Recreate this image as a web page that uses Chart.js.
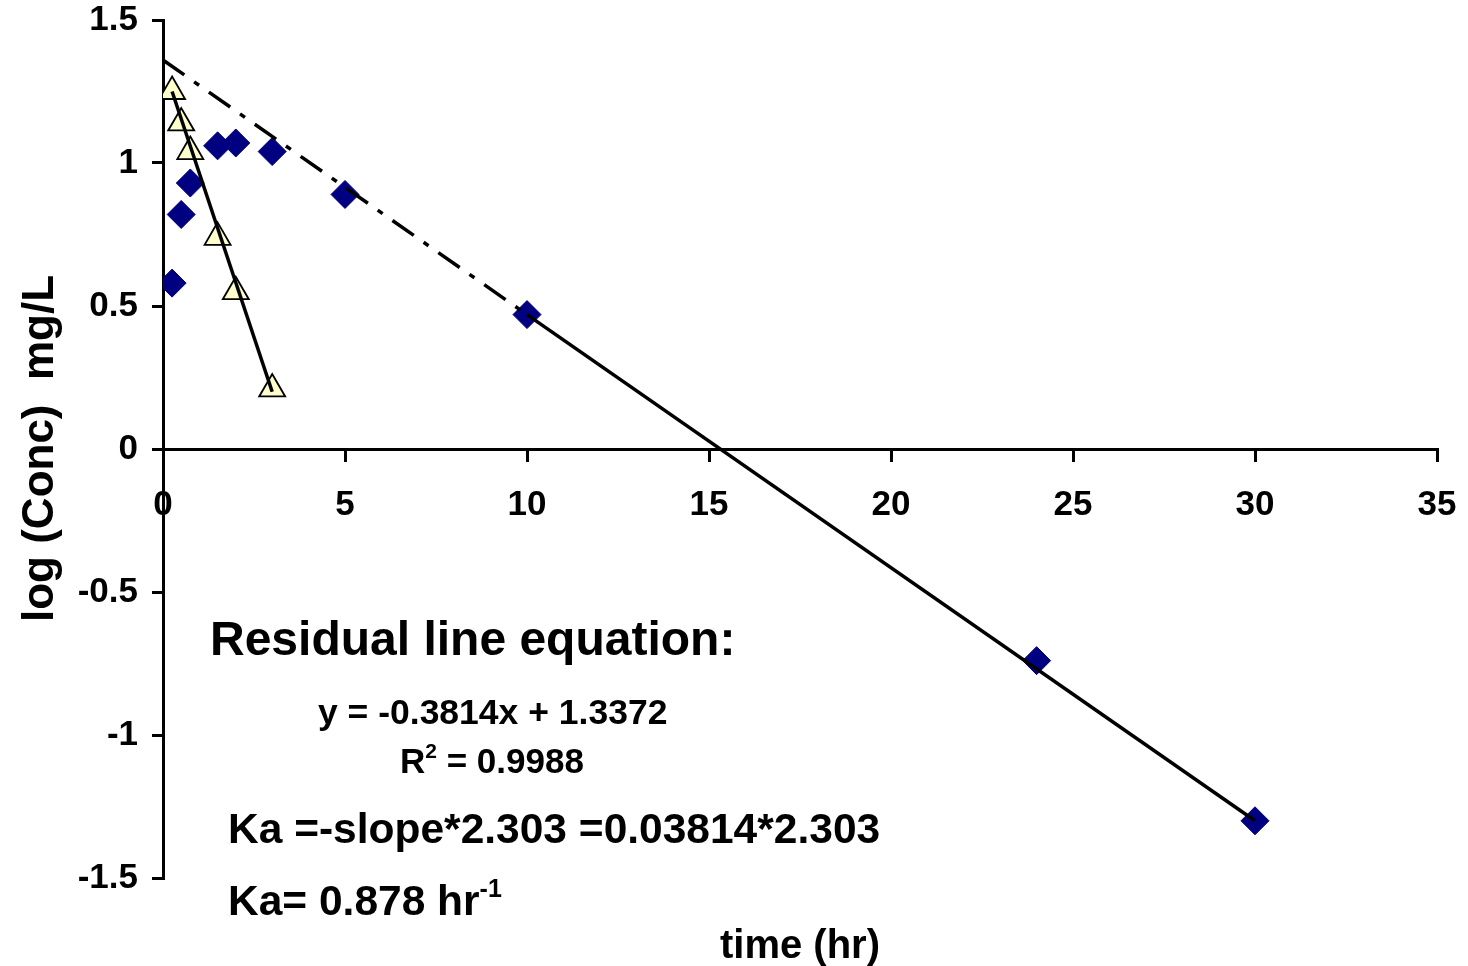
<!DOCTYPE html>
<html>
<head>
<meta charset="utf-8">
<script src="https://cdn.jsdelivr.net/npm/chart.js@4/dist/chart.umd.min.js"></script>
<style>
  body { margin: 0; background: #fff; }
</style>
</head>
<body>
<canvas id="pkChart" width="1468" height="966"></canvas>
<script>
// observed log concentrations (diamonds)
const obsTime = [0.25, 0.5, 0.75, 1.5, 2, 3, 5, 10, 24, 30];
const obsLogConc = [0.58, 0.82, 0.93, 1.06, 1.07, 1.04, 0.89, 0.47, -0.74, -1.30];

// residuals (triangles)
const resTime = [0.25, 0.5, 0.75, 1.5, 2, 3];
const resLogConc = [1.25, 1.14, 1.04, 0.74, 0.55, 0.21];

// terminal line, back-extrapolated part and fitted part
const backTime = [0, 10];
const backLog = [1.36, 0.47];
const elimTime = [10, 30];
const elimLog = [0.47, -1.30];

// residual line
const resFitTime = [0.25, 3];
const resFitLog = [1.25, 0.20];

const xMin = 0, xMax = 35, xStep = 5;
const yMin = -1.5, yMax = 1.5, yStep = 0.5;

const yTitle = 'log (Conc)  mg/L';
const xTitle = 'time (hr)';

function pts(xs, ys) {
  return xs.map((x, i) => ({ x: x, y: ys[i] }));
}

const FONT = '"Liberation Sans", Arial, sans-serif';

// text made of pieces, some raised (superscripts)
function drawParts(ctx, parts, x, y) {
  let cx = x;
  parts.forEach(p => {
    ctx.font = 'bold ' + p.size + 'px ' + FONT;
    ctx.fillText(p.t, cx, y - (p.rise || 0));
    cx += ctx.measureText(p.t).width;
  });
}

const textPlugin = {
  id: 'texts',
  beforeDraw(chart) {
    const ctx = chart.ctx;
    ctx.save();
    ctx.fillStyle = '#fff';
    ctx.fillRect(0, 0, chart.width, chart.height);
    ctx.restore();
  },
  afterDraw(chart) {
    const ctx = chart.ctx;
    ctx.save();
    ctx.fillStyle = '#000';
    ctx.textAlign = 'left';
    ctx.textBaseline = 'alphabetic';

    drawParts(ctx, [{ t: 'Residual line equation:', size: 48 }], 210, 655);
    drawParts(ctx, [{ t: 'y = -0.3814x + 1.3372', size: 35.5 }], 318, 724);
    drawParts(ctx, [{ t: 'R', size: 35 }, { t: '2', size: 21, rise: 15 }, { t: ' = 0.9988', size: 35 }], 400, 773);
    drawParts(ctx, [{ t: 'Ka =-slope*2.303 =0.03814*2.303', size: 42.5 }], 228, 843);
    drawParts(ctx, [{ t: 'Ka= 0.878 hr', size: 42.5 }, { t: '-1', size: 25, rise: 18 }], 228, 915);
    drawParts(ctx, [{ t: xTitle, size: 40 }], 720, 958);

    // y axis title, rotated
    ctx.save();
    ctx.translate(53, 622);
    ctx.rotate(-Math.PI / 2);
    drawParts(ctx, [{ t: yTitle, size: 44 }], 0, 0);
    ctx.restore();

    ctx.restore();
  }
};

const tickFont = { family: FONT, size: 35, weight: 'bold' };

new Chart(document.getElementById('pkChart'), {
  type: 'scatter',
  data: {
    datasets: [
      {
        label: 'residual line',
        data: pts(resFitTime, resFitLog),
        showLine: true,
        borderColor: '#000',
        borderWidth: 3.5,
        pointRadius: 0
      },
      {
        label: 'back extrapolation',
        data: pts(backTime, backLog),
        showLine: true,
        borderColor: '#000',
        borderWidth: 3.5,
        borderDash: [26, 12, 6, 12],
        pointRadius: 0
      },
      {
        label: 'elimination line',
        data: pts(elimTime, elimLog),
        showLine: true,
        borderColor: '#000',
        borderWidth: 3.5,
        pointRadius: 0
      },
      {
        label: 'residuals',
        data: pts(resTime, resLogConc),
        pointStyle: 'triangle',
        pointRadius: 15,
        pointBackgroundColor: '#FFFFCC',
        pointBorderColor: '#000',
        pointBorderWidth: 1.8
      },
      {
        label: 'observed',
        data: pts(obsTime, obsLogConc),
        pointStyle: 'rectRot',
        pointRadius: 14,
        pointBackgroundColor: '#000080',
        pointBorderColor: '#000080',
        pointBorderWidth: 1
      }
    ]
  },
  options: {
    responsive: false,
    animation: false,
    layout: { padding: { top: 20, right: 31, bottom: 88, left: 0 } },
    plugins: {
      legend: { display: false },
      tooltip: { enabled: false }
    },
    scales: {
      x: {
        type: 'linear',
        position: { y: 0 },
        min: xMin,
        max: xMax,
        afterFit(scale) { scale.paddingLeft = 0; scale.paddingRight = 0; },
        border: { color: '#000', width: 3 },
        grid: { drawOnChartArea: false, color: '#000', lineWidth: 3, tickLength: 11 },
        ticks: { stepSize: xStep, color: '#000', font: tickFont, padding: 24, maxRotation: 0 }
      },
      y: {
        type: 'linear',
        position: 'left',
        min: yMin,
        max: yMax,
        afterFit(scale) {
          scale.width = 163;
          scale.paddingTop = 0;
          scale.paddingBottom = 0;
        },
        border: { color: '#000', width: 3 },
        grid: { drawOnChartArea: false, color: '#000', lineWidth: 3, tickLength: 11 },
        ticks: {
          stepSize: yStep,
          color: '#000',
          font: tickFont,
          padding: 14,
          callback: v => String(v)
        }
      }
    }
  },
  plugins: [textPlugin]
});
</script>
</body>
</html>
